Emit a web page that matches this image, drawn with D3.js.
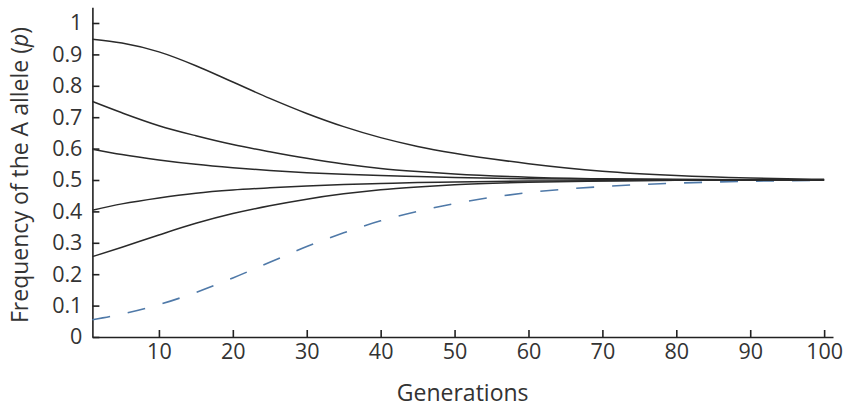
<!DOCTYPE html>
<html>
<head>
<meta charset="utf-8">
<script src="https://cdn.jsdelivr.net/npm/d3@7"></script>
<style>
  body { margin: 0; background: #fff; }
  text { font-family: "Open Sans", "Noto Sans", sans-serif; fill: #333; }
</style>
</head>
<body>
<div id="chart"></div>
<script>
// Generations sampled along each trajectory
const generations = [1, 5, 10, 15, 20, 25, 30, 35, 40, 45, 50, 60, 70, 80, 90, 100];

const p095 = [0.948, 0.936, 0.908, 0.864, 0.812, 0.760, 0.712, 0.670, 0.635, 0.607, 0.585, 0.552, 0.528, 0.514, 0.506, 0.502];
const p075 = [0.750, 0.714, 0.673, 0.641, 0.613, 0.590, 0.569, 0.551, 0.537, 0.527, 0.519, 0.509, 0.504, 0.502, 0.501, 0.500];
const p060 = [0.598, 0.581, 0.564, 0.550, 0.539, 0.530, 0.523, 0.518, 0.514, 0.511, 0.508, 0.504, 0.502, 0.501, 0.500, 0.500];
const p040 = [0.404, 0.424, 0.443, 0.458, 0.468, 0.475, 0.481, 0.486, 0.489, 0.492, 0.494, 0.497, 0.498, 0.499, 0.500, 0.500];
const p025 = [0.256, 0.286, 0.325, 0.362, 0.393, 0.418, 0.439, 0.456, 0.469, 0.478, 0.485, 0.493, 0.497, 0.499, 0.500, 0.500];
const p005 = [0.055, 0.073, 0.103, 0.142, 0.188, 0.238, 0.288, 0.332, 0.370, 0.400, 0.425, 0.460, 0.479, 0.490, 0.496, 0.499];

const solidSeries = [p095, p075, p060, p040, p025];
const dashedSeries = [p005];

const xTicks = [10, 20, 30, 40, 50, 60, 70, 80, 90, 100];
const yTicks = [0, 0.1, 0.2, 0.3, 0.4, 0.5, 0.6, 0.7, 0.8, 0.9, 1];

const width = 849, height = 409;

const svg = d3.select("#chart")
    .append("svg")
    .attr("width", width)
    .attr("height", height);

// Scales
const x = d3.scaleLinear()
    .domain([1, 101.2])
    .range([92.4, 833]);

const y = d3.scaleLinear()
    .domain([0, 1.05])
    .range([337, 7.3]);

// Axes (ticks pointing inwards)
const xAxis = svg.append("g")
    .attr("transform", `translate(0, ${y(0)})`)
    .call(d3.axisBottom(x)
        .tickValues(xTicks)
        .tickSizeInner(-7)
        .tickSizeOuter(0)
        .tickPadding(7));

const yAxis = svg.append("g")
    .attr("transform", `translate(${x(1)}, 0)`)
    .call(d3.axisLeft(y)
        .tickValues(yTicks)
        .tickFormat(d => d === 0 ? "0" : d === 1 ? "1" : d3.format(".1f")(d))
        .tickSizeInner(-7)
        .tickSizeOuter(0)
        .tickPadding(10));

[xAxis, yAxis].forEach(g => {
    g.select(".domain").attr("stroke", "#222").attr("stroke-width", 1.6);
    g.selectAll(".tick line").attr("stroke", "#222").attr("stroke-width", 1.6);
    g.selectAll(".tick text")
        .style("font-family", "'Open Sans', 'Noto Sans', sans-serif")
        .style("font-size", "21.5px")
        .attr("fill", "#333");
});

// Line generator
const line = d3.line()
    .x((d, i) => x(generations[i]))
    .y(d => y(d))
    .curve(d3.curveMonotoneX);

svg.selectAll(".dashed")
    .data(dashedSeries)
    .enter()
    .append("path")
    .attr("class", "dashed")
    .attr("d", line)
    .attr("fill", "none")
    .attr("stroke", "#4f79a8")
    .attr("stroke-width", 1.6)
    .attr("stroke-dasharray", "18,18");

svg.selectAll(".solid")
    .data(solidSeries)
    .enter()
    .append("path")
    .attr("class", "solid")
    .attr("d", line)
    .attr("fill", "none")
    .attr("stroke", "#2a2a2a")
    .attr("stroke-width", 1.5);

// Axis titles
svg.append("text")
    .attr("x", (x(1) + 833) / 2)
    .attr("y", 401)
    .style("text-anchor", "middle")
    .style("font-size", "23px")
    .text("Generations");

const yTitle = svg.append("text")
    .attr("transform", "translate(28, 175) rotate(-90)")
    .style("text-anchor", "middle")
    .style("font-size", "23px");
yTitle.append("tspan").text("Frequency of the A allele (");
yTitle.append("tspan").style("font-style", "italic").text("p");
yTitle.append("tspan").text(")");
</script>
</body>
</html>
